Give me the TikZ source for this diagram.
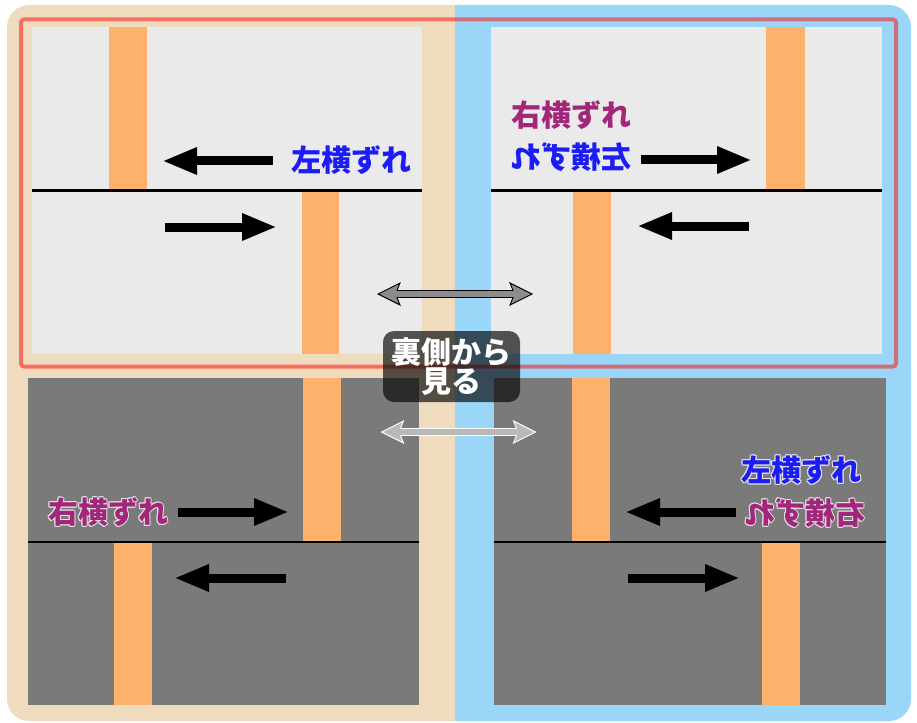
\documentclass[tikz,border=0pt]{standalone}
\usepackage{fontspec}
\usepackage{graphicx}
\newfontfamily\jp{Noto Sans CJK JP}
\usetikzlibrary{arrows.meta}
\definecolor{beige}{RGB}{239,220,190}
\definecolor{skyb}{RGB}{153,214,248}
\definecolor{redl}{RGB}{250,25,20}
\definecolor{paneL}{RGB}{234,234,234}
\definecolor{paneD}{RGB}{122,122,122}
\definecolor{bar}{RGB}{253,178,107}
\definecolor{txtblue}{RGB}{28,28,245}
\definecolor{txtmag}{RGB}{162,38,122}
\definecolor{halo}{RGB}{225,225,225}
\newcommand\halotext[2]{%
 \makebox[0pt][l]{\color{halo}\kern1pt #2}%
 \makebox[0pt][l]{\color{halo}\kern-1pt #2}%
 \makebox[0pt][l]{\color{halo}\raisebox{1pt}{#2}}%
 \makebox[0pt][l]{\color{halo}\raisebox{-1pt}{#2}}%
 \makebox[0pt][l]{\color{halo}\kern0.7pt\raisebox{0.7pt}{#2}}%
 \makebox[0pt][l]{\color{halo}\kern-0.7pt\raisebox{0.7pt}{#2}}%
 \makebox[0pt][l]{\color{halo}\kern0.7pt\raisebox{-0.7pt}{#2}}%
 \makebox[0pt][l]{\color{halo}\kern-0.7pt\raisebox{-0.7pt}{#2}}%
 {\color{#1}#2}}
\tikzset{
 lbl/.style={font=\jp\bfseries\fontsize{30}{30}\selectfont, inner sep=0pt},
 blkarrow/.style={line width=9pt, -{Triangle[length=35pt,width=25pt]}},
 panelL/.style={fill=paneL},
 panelD/.style={fill=paneD},
 barbox/.style={fill=bar},
 seam/.style={line width=2.2pt, black},
}
\begin{document}
\begin{tikzpicture}[x=1pt,y=-1pt]
\useasboundingbox (0,0) rectangle (917,722);
% background
\begin{scope}
 \clip[rounded corners=22pt] (7,5) rectangle (911,721);
 \fill[beige] (0,0) rectangle (455,722);
 \fill[skyb] (455,0) rectangle (917,722);
\end{scope}
% ---- top-left panel
\fill[panelL] (32,27) rectangle (422,354);
\fill[barbox] (109,27) rectangle (147,190);
\fill[barbox] (302,190) rectangle (339,354);
\draw[seam] (32,190.5) -- (422,190.5);
\coordinate (a1s) at (273,161); \coordinate (a1e) at (162,161);
\coordinate (a2s) at (165,227); \coordinate (a2e) at (277,227);
\draw[blkarrow] (a1s) -- (a1e);
\draw[blkarrow] (a2s) -- (a2e);
\node[lbl, text=txtblue] (tl) at (351.5,160) {左横ずれ};
% ---- top-right panel
\fill[panelL] (491,27) rectangle (882,354);
\fill[barbox] (766,27) rectangle (805,190);
\fill[barbox] (573,190) rectangle (611,354);
\draw[seam] (491,190.5) -- (882,190.5);
\coordinate (b1s) at (641,160); \coordinate (b1e) at (752,160);
\coordinate (b2s) at (749,226); \coordinate (b2e) at (637,226);
\draw[blkarrow] (b1s) -- (b1e);
\draw[blkarrow] (b2s) -- (b2e);
\node[lbl, text=txtmag] (tr1) at (571,115) {右横ずれ};
\node[lbl, text=txtblue] (tr2) at (571,157) {\reflectbox{左横ずれ}};
% ---- bottom-left panel
\fill[panelD] (28,378) rectangle (419,705);
\fill[barbox] (303,378) rectangle (341,542);
\fill[barbox] (114,542) rectangle (152,705);
\draw[seam] (28,542) -- (419,542);
\coordinate (c1s) at (178,512); \coordinate (c1e) at (289,512);
\coordinate (c2s) at (286,578); \coordinate (c2e) at (174,578);
\draw[blkarrow] (c1s) -- (c1e);
\draw[blkarrow] (c2s) -- (c2e);
\node[lbl] (bl) at (108,512) {\halotext{txtmag}{右横ずれ}};
% ---- bottom-right panel
\fill[panelD] (494,378) rectangle (886,705);
\fill[barbox] (572,378) rectangle (610,542);
\fill[barbox] (762,542) rectangle (800,705);
\draw[seam] (494,542) -- (886,542);
\coordinate (d1s) at (736,512); \coordinate (d1e) at (625,512);
\coordinate (d2s) at (628,578); \coordinate (d2e) at (740,578);
\draw[blkarrow] (d1s) -- (d1e);
\draw[blkarrow] (d2s) -- (d2e);
\node[lbl] (br1) at (801.5,470) {\halotext{txtblue}{左横ずれ}};
\node[lbl] (br2) at (805,513) {\reflectbox{\halotext{txtmag}{右横ずれ}}};
% ---- red frame
\draw[redl, opacity=0.55, line width=4pt, rounded corners=3pt] (21,19.5) rectangle (896,366.5);
% ---- double arrows
\begin{scope}[shift={(455,294)}]
 \draw[fill={rgb,255:red,140;green,140;blue,140}, draw=black, line width=0.9pt, line join=miter]
  (-77,0) -- (-55,-11) -- (-58,-3.5) -- (58,-3.5) -- (55,-11) -- (77,0) -- (55,11) -- (58,3.5) -- (-58,3.5) -- (-55,11) -- cycle;
\end{scope}
\begin{scope}[shift={(458.5,432)}]
 \draw[fill={rgb,255:red,185;green,185;blue,185}, draw=white, line width=0.9pt, line join=miter]
  (-77,0) -- (-55,-11) -- (-58,-3.5) -- (58,-3.5) -- (55,-11) -- (77,0) -- (55,11) -- (58,3.5) -- (-58,3.5) -- (-55,11) -- cycle;
\end{scope}
% ---- centre label
\node[lbl, fill=black, fill opacity=0.65, text opacity=1, text=white, rounded corners=11pt,
 minimum width=137pt, minimum height=71pt, align=center] (look) at (451.5,366.5)
 {裏側から\\[-1pt]見る};
\end{tikzpicture}
\end{document}
